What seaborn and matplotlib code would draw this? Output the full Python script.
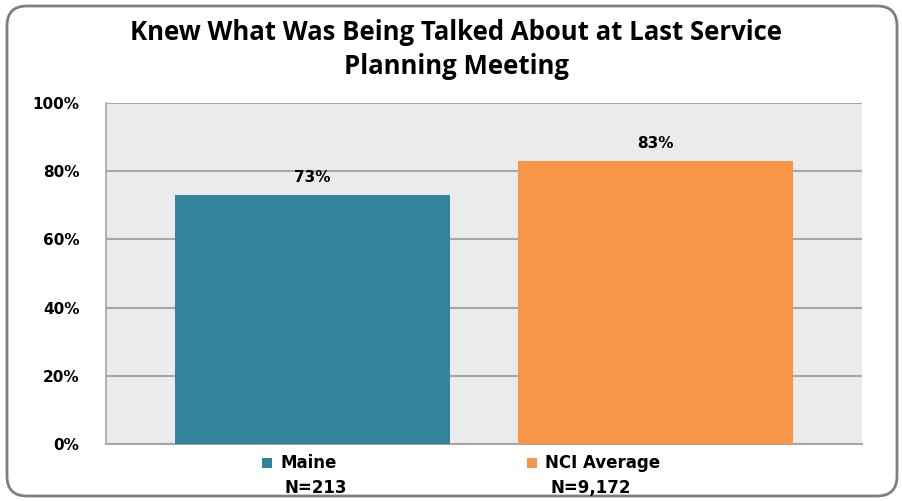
import matplotlib
matplotlib.use("Agg")
import matplotlib.pyplot as plt
import seaborn as sns
import pandas as pd
from matplotlib.patches import FancyBboxPatch, Rectangle
from matplotlib.ticker import PercentFormatter

categories = ["Maine", "NCI Average"]
values = [73, 83]
sample_sizes = ["N=213", "N=9,172"]
colors = ["#31849B", "#F79646"]
yticks = [0, 20, 40, 60, 80, 100]

sns.set_theme(style="white")
plt.rcParams["font.family"] = ["DejaVu Sans"]

df = pd.DataFrame({"cat": categories, "val": values})

fig = plt.figure(figsize=(9.02, 5.01), dpi=100)
ax = fig.add_axes([106/902, 57/501, (862-106)/902, (444-103)/501])
ax.set_facecolor("#EBEBEB")

sns.barplot(data=df, x="cat", y="val", hue="cat", palette=colors,
            width=0.8, saturation=1, legend=False, ax=ax, zorder=3,
            linewidth=0, edgecolor="none")

ax.set_xlim(-0.6, 1.6)
ax.set_ylim(0, 100)
ax.set_yticks(yticks)
ax.yaxis.set_major_formatter(PercentFormatter(decimals=0))
ax.grid(axis="y", color="#A6A6A6", linewidth=1.5, zorder=0)
ax.set_axisbelow(True)
ax.set_xticks([])
ax.set_xlabel("")
ax.set_ylabel("")
for s in ["top", "right"]:
    ax.spines[s].set_visible(False)
ax.spines["left"].set_color("#A6A6A6")
ax.spines["left"].set_linewidth(1.2)
ax.spines["bottom"].set_color("#A6A6A6")
ax.spines["bottom"].set_linewidth(1.5)
ax.tick_params(axis="y", direction="out", length=7, width=1.2, color="#A6A6A6",
               pad=12, labelsize=11, labelcolor="#000000")
for lab in ax.get_yticklabels():
    lab.set_fontweight("bold")

for i, v in enumerate(values):
    ax.text(i, v + 3, f"{v}%", ha="center", va="bottom", fontsize=11,
            fontweight="bold", color="#000000")

fig.text(456/902, 1 - 33/501, "Knew What Was Being Talked About at Last Service",
         ha="center", va="center", fontsize=18.5, fontweight="bold", color="#000000",
         family=["Open Sans", "DejaVu Sans"])
fig.text(457/902, 1 - 66/501, "Planning Meeting",
         ha="center", va="center", fontsize=18.5, fontweight="bold", color="#000000",
         family=["Open Sans", "DejaVu Sans"])

leg_x = [262, 527]
for i, (c, n) in enumerate(zip(categories, sample_sizes)):
    x0 = leg_x[i]
    fig.patches.append(Rectangle((x0/902, 1 - 468/501), 10/902, 10/501,
                                 transform=fig.transFigure, facecolor=colors[i],
                                 edgecolor="none"))
    fig.text((x0 + 18)/902, 1 - 463/501, c, ha="left", va="center",
             fontsize=12, fontweight="bold", color="#000000")
    fig.text((x0 + 23)/902, 1 - 488/501, n, ha="left", va="center",
             fontsize=12, fontweight="bold", color="#000000")

border = FancyBboxPatch((7/902, 5/501), (897-7)/902, (495-5)/501,
                        boxstyle="round,pad=0,rounding_size=0.022",
                        transform=fig.transFigure, facecolor="none",
                        edgecolor="#7F7F7F", linewidth=2, mutation_aspect=902/501)
fig.patches.append(border)

fig.savefig("out.png", dpi=100)
